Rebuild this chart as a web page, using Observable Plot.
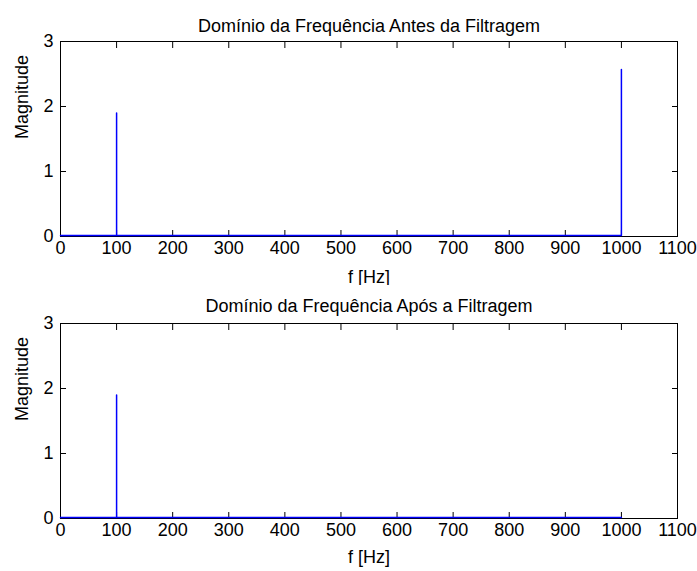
<!DOCTYPE html>
<html>
<head>
<meta charset="utf-8">
<script src="https://cdn.jsdelivr.net/npm/d3@7"></script>
<script src="https://cdn.jsdelivr.net/npm/@observablehq/plot@0.6"></script>
<style>
  html, body { margin: 0; padding: 0; background: #fff; }
  #chart svg { display: block; }
</style>
</head>
<body>
<div id="chart"></div>
<script>
// Spectrum samples (frequency in Hz, magnitude)
const freqs = [0, 100, 100, 100, 1000, 1000];
const magBefore = [0.015, 0.015, 1.9, 0.015, 0.015, 2.57];
const magAfter = [0.015, 0.015, 1.9, 0.015, 0.015, 0.015];

const titles = ["Domínio da Frequência Antes da Filtragem", "Domínio da Frequência Após a Filtragem"];
const xLabel = "f [Hz]";
const yLabel = "Magnitude";
const xTicks = [0, 100, 200, 300, 400, 500, 600, 700, 800, 900, 1000, 1100];
const yTicks = [0, 1, 2, 3];

function panel(mags, title, opts) {
  const data = freqs.map((f, i) => ({f, m: mags[i]}));
  const font = "Liberation Sans, Arial, sans-serif";
  return Plot.plot({
    width: 697,
    height: opts.height,
    marginTop: opts.marginTop,
    marginBottom: opts.marginBottom,
    marginLeft: 60,
    marginRight: 20,
    style: {fontFamily: font, fontSize: "18px", background: "#fff", color: "#000"},
    x: {domain: [0, 1100], axis: null},
    y: {domain: [0, 3], axis: null},
    marks: [
      Plot.frame({stroke: "#000", strokeWidth: 1}),
      Plot.axisX({anchor: "bottom", ticks: xTicks, tickSize: 0, tickPadding: 5, fontSize: 18, label: null, tickFormat: d => String(d)}),
      Plot.axisX({anchor: "bottom", ticks: xTicks, tickSize: 6, dy: -6, text: null, label: null}),
      Plot.axisX({anchor: "top", ticks: xTicks, tickSize: 6, dy: 6, text: null, label: null}),
      Plot.axisY({anchor: "left", ticks: yTicks, tickSize: 0, tickPadding: 7, fontSize: 18, label: null, tickFormat: d => String(d)}),
      Plot.axisY({anchor: "left", ticks: yTicks, tickSize: 6, dx: 6, text: null, label: null}),
      Plot.axisY({anchor: "right", ticks: yTicks, tickSize: 6, dx: -6, text: null, label: null}),
      Plot.line(data, {x: "f", y: "m", stroke: "#0000ff", strokeWidth: 1.5}),
      Plot.text([title], {frameAnchor: "top", lineAnchor: "bottom", dy: opts.titleDy, fontSize: 18, style: {letterSpacing: "0.5px"}}),
      Plot.text([xLabel], {frameAnchor: "bottom", lineAnchor: "bottom", dy: opts.xLabelDy, fontSize: 18}),
      Plot.text([yLabel], {frameAnchor: "left", rotate: -90, dx: -38, fontSize: 18})
    ]
  });
}

const chart = document.getElementById("chart");
chart.append(panel(magBefore, titles[0], {height: 285, marginTop: 41, marginBottom: 49, titleDy: -10, xLabelDy: 46}));
chart.append(panel(magAfter, titles[1], {height: 286, marginTop: 38, marginBottom: 53, titleDy: -12, xLabelDy: 44}));
</script>
</body>
</html>
